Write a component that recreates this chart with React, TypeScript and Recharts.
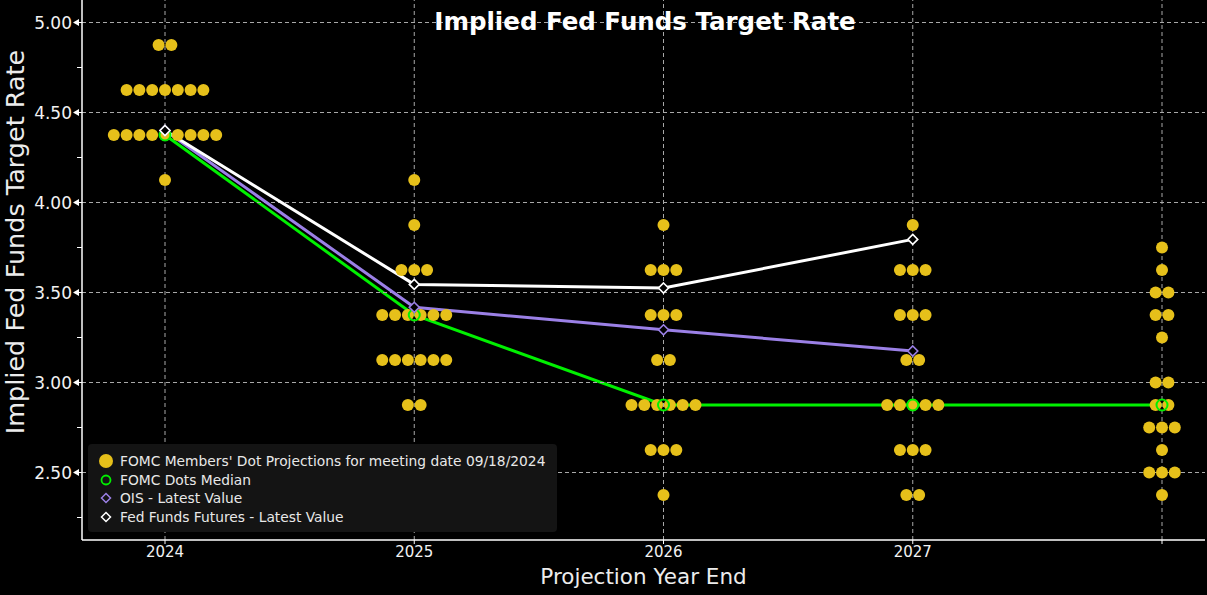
import React from 'react'
import {
  ComposedChart,
  Scatter,
  Line,
  XAxis,
  YAxis,
  ReferenceLine,
} from 'recharts'

// projection columns (last one is "longer run", no label)
const years = [2024, 2025, 2026, 2027, 2028]
const yearLabels = ['2024', '2025', '2026', '2027', '']

// dot plot: rate levels and how many members put a dot there, per column
const rateLevels = [4.875, 4.625, 4.375, 4.125, 3.875, 3.75, 3.625, 3.5, 3.375, 3.25, 3.125, 3.0, 2.875, 2.75, 2.625, 2.5, 2.375]
const dots2024 = [2, 7, 9, 1, 0, 0, 0, 0, 0, 0, 0, 0, 0, 0, 0, 0, 0]
const dots2025 = [0, 0, 0, 1, 1, 0, 3, 0, 6, 0, 6, 0, 2, 0, 0, 0, 0]
const dots2026 = [0, 0, 0, 0, 1, 0, 3, 0, 3, 0, 2, 0, 6, 0, 3, 0, 1]
const dots2027 = [0, 0, 0, 0, 1, 0, 3, 0, 3, 0, 2, 0, 5, 0, 3, 0, 2]
const dotsLonger = [0, 0, 0, 0, 0, 1, 1, 2, 2, 1, 0, 2, 2, 3, 1, 3, 1]

const medianValues = [4.375, 3.375, 2.875, 2.875, 2.875]
const oisValues = [4.4, 3.418, 3.293, 3.175]
const futuresValues = [4.4, 3.545, 3.525, 3.795]

const yTicks = [2.25, 2.5, 2.75, 3.0, 3.25, 3.5, 3.75, 4.0, 4.25, 4.5, 4.75, 5.0]
const yGrid = [2.5, 3.0, 3.5, 4.0, 4.5, 5.0]

const legendLabels = [
  "FOMC Members' Dot Projections for meeting date 09/18/2024",
  'FOMC Dots Median',
  'OIS - Latest Value',
  'Fed Funds Futures - Latest Value',
]

const GOLD = '#e6c01a'
const GREEN = '#00f000'
const PURPLE = '#9b80e6'
const WHITE = '#ffffff'
const GRID = '#a8a8a8'

const DOT_STEP = 12.8

const dotColumns = [dots2024, dots2025, dots2026, dots2027, dotsLonger]
const dotData = dotColumns.flatMap((counts, c) =>
  counts.flatMap((n, r) =>
    Array.from({ length: n }, (_, i) => ({ x: years[c], y: rateLevels[r], slot: i - (n - 1) / 2 }))
  )
)
const medianData = medianValues.map((y, i) => ({ x: years[i], y }))
const oisData = oisValues.map((y, i) => ({ x: years[i], y }))
const futuresData = futuresValues.map((y, i) => ({ x: years[i], y }))

function GoldDot(props: any) {
  const { cx, cy, payload } = props
  return <circle cx={cx + payload.slot * DOT_STEP} cy={cy} r={6} fill={GOLD} />
}

function MedianMark(props: any) {
  return <circle cx={props.cx} cy={props.cy} r={5.5} fill="none" stroke={GREEN} strokeWidth={2} />
}

function diamond(color: string) {
  return (props: any) => {
    const { cx, cy } = props
    if (cx == null || cy == null) return null
    return (
      <path
        key={`${cx}-${cy}`}
        d={`M${cx},${cy - 5} L${cx + 5},${cy} L${cx},${cy + 5} L${cx - 5},${cy} Z`}
        fill="#000"
        stroke={color}
        strokeWidth={1.6}
      />
    )
  }
}

function YTick(props: any) {
  const { x, y, payload } = props
  const v = payload.value as number
  const major = Math.abs(v * 2 - Math.round(v * 2)) < 1e-6
  if (!major) return <line x1={x - 5} x2={x} y1={y} y2={y} stroke="#fff" strokeWidth={1} />
  return (
    <g>
      <polygon points={`${x - 9},${y} ${x - 3},${y - 3.5} ${x - 3},${y + 3.5}`} fill="#fff" />
      <line x1={x - 3} x2={x} y1={y} y2={y} stroke="#fff" strokeWidth={1} />
      <text x={x - 10} y={y} dy={6} textAnchor="end" fill="#f2f2f2" fontSize={17}>
        {v.toFixed(2)}
      </text>
    </g>
  )
}

function XTick(props: any) {
  const { x, y, payload } = props
  const idx = years.indexOf(payload.value)
  return (
    <g>
      <line x1={x} x2={x} y1={y} y2={y + 4} stroke="#fff" strokeWidth={1} />
      <text x={x} y={y + 17} textAnchor="middle" fill="#f2f2f2" fontSize={15}>
        {yearLabels[idx]}
      </text>
    </g>
  )
}

function LegendBox() {
  const icons = [
    <circle cx={9} cy={9} r={7} fill={GOLD} />,
    <circle cx={9} cy={9} r={4.5} fill="none" stroke={GREEN} strokeWidth={1.8} />,
    <path d="M9,4.5 L13.5,9 L9,13.5 L4.5,9 Z" fill="none" stroke={PURPLE} strokeWidth={1.5} />,
    <path d="M9,4.5 L13.5,9 L9,13.5 L4.5,9 Z" fill="none" stroke={WHITE} strokeWidth={1.5} />,
  ]
  return (
    <div
      style={{
        position: 'absolute',
        left: 88,
        top: 444,
        width: 469,
        height: 88,
        background: '#141414',
        borderRadius: 4,
        boxSizing: 'border-box',
        padding: '8px 0 0 9px',
      }}
    >
      {legendLabels.map((label, i) => (
        <div key={label} style={{ display: 'flex', alignItems: 'center', height: 18.5 }}>
          <svg width={18} height={18} style={{ marginRight: 5 }}>
            {icons[i]}
          </svg>
          <span style={{ color: '#e8e8e8', fontSize: 13.8, whiteSpace: 'nowrap' }}>{label}</span>
        </div>
      ))}
    </div>
  )
}

export default function App() {
  return (
    <div
      style={{
        position: 'relative',
        width: 1207,
        height: 595,
        background: '#000',
        fontFamily: '"DejaVu Sans", sans-serif',
        overflow: 'hidden',
      }}
    >
      <style>{'body{margin:0;background:#000}'}</style>
      <ComposedChart width={1207} height={595} margin={{ top: 0, right: 2, bottom: 0, left: 0 }}>
        <XAxis
          type="number"
          dataKey="x"
          domain={[2023.667, 2028.1725]}
          ticks={years}
          allowDataOverflow
          height={55}
          stroke="#fff"
          strokeWidth={1.5}
          tickLine={false}
          tickSize={0}
          tickMargin={0}
          tick={<XTick />}
        />
        <YAxis
          type="number"
          dataKey="y"
          domain={[2.125, 5.125]}
          ticks={yTicks}
          allowDataOverflow
          width={82}
          stroke="#fff"
          strokeWidth={1.5}
          tickLine={false}
          tickSize={0}
          tickMargin={0}
          tick={<YTick />}
        />
        <Line
          data={medianData}
          dataKey="y"
          stroke={GREEN}
          strokeWidth={3}
          dot={false}
          activeDot={false}
          isAnimationActive={false}
        />
        <Scatter data={dotData} dataKey="y" shape={<GoldDot />} isAnimationActive={false} />
        {yGrid.map((v) => (
          <ReferenceLine key={`h${v}`} y={v} stroke={GRID} strokeDasharray="4 3" />
        ))}
        {years.map((v) => (
          <ReferenceLine key={`v${v}`} x={v} stroke={GRID} strokeDasharray="4 3" />
        ))}
        <Scatter data={medianData} dataKey="y" shape={<MedianMark />} isAnimationActive={false} />
        <Line
          data={oisData}
          dataKey="y"
          stroke={PURPLE}
          strokeWidth={3}
          dot={diamond(PURPLE)}
          activeDot={false}
          isAnimationActive={false}
        />
        <Line
          data={futuresData}
          dataKey="y"
          stroke={WHITE}
          strokeWidth={3}
          dot={diamond(WHITE)}
          activeDot={false}
          isAnimationActive={false}
        />
      </ComposedChart>

      <div
        style={{
          position: 'absolute',
          left: 0,
          top: 8,
          width: 1290,
          textAlign: 'center',
          color: '#fff',
          fontWeight: 'bold',
          fontSize: 24.5,
          lineHeight: '28px',
        }}
      >
        Implied Fed Funds Target Rate
      </div>
      <div
        style={{
          position: 'absolute',
          left: 82,
          width: 1123,
          top: 563,
          textAlign: 'center',
          color: '#ececec',
          fontSize: 21.5,
          lineHeight: '28px',
        }}
      >
        Projection Year End
      </div>
      <div
        style={{
          position: 'absolute',
          left: 15,
          top: 242,
          transform: 'translate(-50%, -50%) rotate(-90deg)',
          color: '#ececec',
          fontSize: 25.5,
          whiteSpace: 'nowrap',
          lineHeight: '28px',
        }}
      >
        Implied Fed Funds Target Rate
      </div>
      <LegendBox />
    </div>
  )
}
